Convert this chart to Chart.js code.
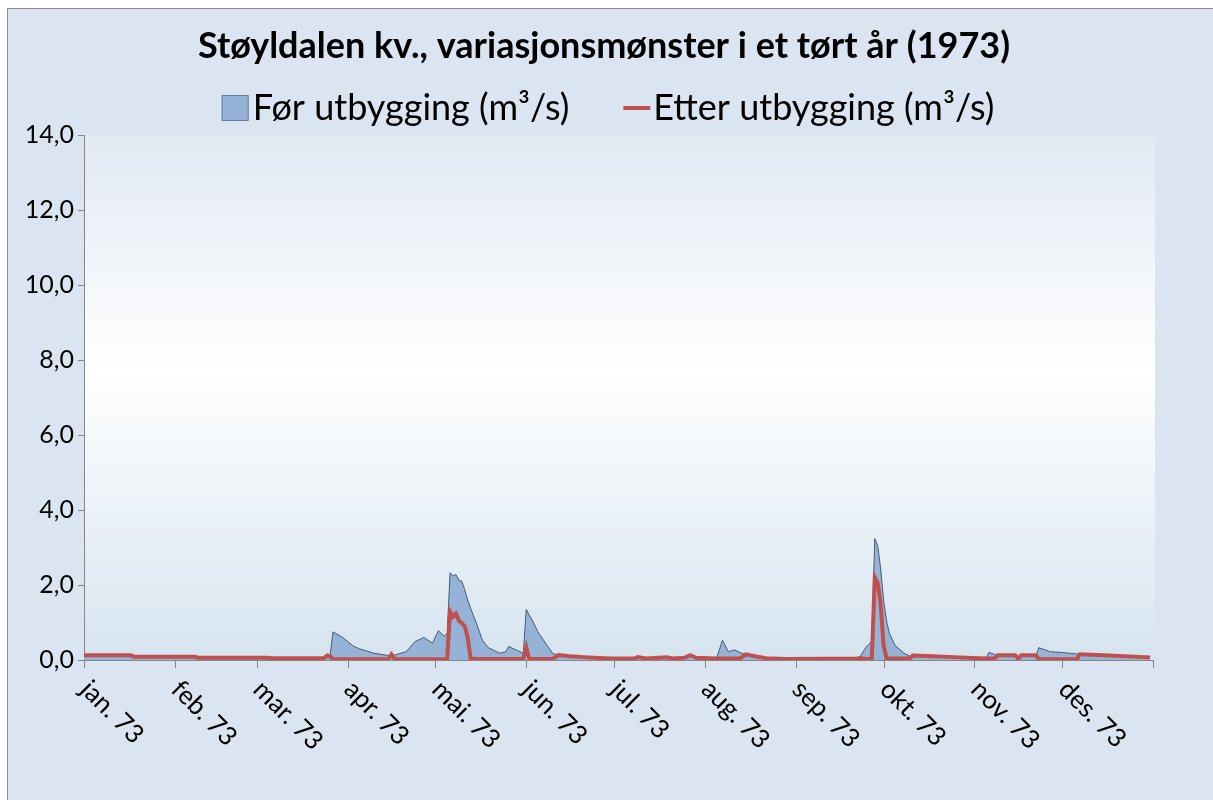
<!DOCTYPE html>
<html>
<head>
<meta charset="utf-8">
<script src="https://cdn.jsdelivr.net/npm/chart.js@4/dist/chart.umd.min.js"></script>
<style>
  body { margin: 0; background: #fff; }
  canvas { display: block; }
</style>
</head>
<body>
<canvas id="chart" width="1213" height="800"></canvas>
<script>
const titleText = 'Støyldalen kv., variasjonsmønster i et tørt år (1973)';
const seriesNames = ['Før utbygging (m³/s)', 'Etter utbygging (m³/s)'];

// day of year (0 = 1 Jan 1973)
const days = [
  0, 16, 17, 38, 39, 63, 64, 82, 83, 84,
  85, 88, 92, 94, 99, 104, 105, 106, 110, 113,
  116, 119, 121, 123, 124, 125, 126, 127, 128, 129,
  130, 131, 132, 134, 136, 138, 142, 144, 145, 147,
  150, 151, 152, 153, 155, 158, 160, 162, 166, 172,
  180, 188, 189, 192, 199, 201, 205, 207, 209, 216,
  218, 220, 222, 224, 226, 229, 233, 240, 264, 265,
  267, 268, 269, 270, 271, 272, 273, 274, 275, 277,
  280, 282, 283, 290, 299, 308, 309, 311, 312, 318,
  319, 320, 321, 322, 325, 326, 330, 334, 339, 340,
  350, 364,
];

const beforeFlow = [
  0.10, 0.10, 0.08, 0.08, 0.06, 0.06, 0.05, 0.05, 0.06, 0.08,
  0.75, 0.62, 0.37, 0.30, 0.18, 0.12, 0.13, 0.13, 0.22, 0.49,
  0.60, 0.45, 0.78, 0.64, 0.70, 2.33, 2.24, 2.28, 2.13, 2.10,
  1.87, 1.60, 1.38, 0.98, 0.53, 0.33, 0.18, 0.22, 0.36, 0.29,
  0.18, 1.35, 1.20, 1.07, 0.75, 0.40, 0.18, 0.12, 0.10, 0.07,
  0.05, 0.04, 0.07, 0.04, 0.07, 0.04, 0.06, 0.13, 0.06, 0.05,
  0.53, 0.22, 0.27, 0.20, 0.14, 0.10, 0.05, 0.03, 0.04, 0.09,
  0.34, 0.42, 0.50, 3.24, 3.05, 2.45, 1.60, 1.05, 0.71, 0.38,
  0.18, 0.10, 0.11, 0.09, 0.06, 0.04, 0.20, 0.15, 0.10, 0.10,
  0.05, 0.10, 0.18, 0.10, 0.10, 0.33, 0.22, 0.20, 0.16, 0.15,
  0.11, 0.06,
];

const afterFlow = [
  0.13, 0.13, 0.09, 0.09, 0.06, 0.06, 0.05, 0.05, 0.12, 0.10,
  0.02, 0.02, 0.02, 0.02, 0.02, 0.03, 0.15, 0.03, 0.02, 0.02,
  0.02, 0.02, 0.02, 0.02, 0.03, 1.29, 1.16, 1.24, 1.05, 0.98,
  0.90, 0.60, 0.04, 0.03, 0.03, 0.03, 0.03, 0.03, 0.03, 0.03,
  0.03, 0.34, 0.03, 0.03, 0.03, 0.03, 0.03, 0.13, 0.10, 0.07,
  0.04, 0.04, 0.08, 0.04, 0.07, 0.04, 0.06, 0.13, 0.06, 0.04,
  0.04, 0.04, 0.04, 0.04, 0.15, 0.10, 0.05, 0.03, 0.04, 0.05,
  0.03, 0.03, 0.03, 2.20, 2.05, 1.50, 0.40, 0.04, 0.04, 0.04,
  0.04, 0.04, 0.12, 0.10, 0.07, 0.04, 0.04, 0.05, 0.13, 0.13,
  0.03, 0.13, 0.13, 0.13, 0.13, 0.02, 0.02, 0.02, 0.02, 0.15,
  0.12, 0.07,
];

const monthStarts = [0, 31, 59, 90, 120, 151, 181, 212, 243, 273, 304, 334, 365];
const monthLabels = ['jan. 73', 'feb. 73', 'mar. 73', 'apr. 73', 'mai. 73', 'jun. 73',
  'jul. 73', 'aug. 73', 'sep. 73', 'okt. 73', 'nov. 73', 'des. 73'];

const FONT = 'Lato, "Open Sans", sans-serif';
const BLUE = '#95b3d7';
const RED = '#c0504d';
const AXIS = '#868686';

const decor = {
  id: 'decor',
  beforeDraw(chart) {
    const { ctx, width, height, chartArea: { left, top, right, bottom } } = chart;
    ctx.save();
    ctx.fillStyle = '#fff';
    ctx.fillRect(0, 0, width, height);
    ctx.fillStyle = '#dbe5f1';
    ctx.fillRect(7, 8, width, height);
    ctx.strokeStyle = '#8c8c8c';
    ctx.lineWidth = 1;
    ctx.beginPath();
    ctx.moveTo(7.5, height);
    ctx.lineTo(7.5, 8.5);
    ctx.lineTo(width, 8.5);
    ctx.stroke();
    const g = ctx.createLinearGradient(0, top, 0, bottom);
    g.addColorStop(0, '#e2e9f3');
    g.addColorStop(0.45, '#ffffff');
    g.addColorStop(1, '#d6e4ef');
    ctx.fillStyle = g;
    ctx.fillRect(left, top, right - left + 2, bottom - top);
    ctx.restore();
  },
  afterDraw(chart) {
    const { ctx, scales: { x }, chartArea: { bottom } } = chart;
    ctx.save();

    // title
    ctx.fillStyle = '#000';
    ctx.font = `bold 36px ${FONT}`;
    ctx.textAlign = 'center';
    ctx.textBaseline = 'middle';
    ctx.fillText(titleText, 604, 46);

    // legend
    ctx.font = `36px ${FONT}`;
    ctx.textAlign = 'left';
    const w1 = ctx.measureText(seriesNames[0]).width;
    const w2 = ctx.measureText(seriesNames[1]).width;
    const total = 27 + 4 + w1 + 54 + 27 + 3 + w2;
    let lx = 608 - total / 2;
    const ly = 108;
    ctx.fillStyle = BLUE;
    ctx.fillRect(lx, ly - 13, 27, 26);
    ctx.strokeStyle = '#6b7f99';
    ctx.lineWidth = 1;
    ctx.strokeRect(lx + 0.5, ly - 12.5, 26, 25);
    lx += 31;
    ctx.fillStyle = '#000';
    ctx.fillText(seriesNames[0], lx, ly);
    lx += w1 + 54;
    ctx.strokeStyle = RED;
    ctx.lineWidth = 4;
    ctx.beginPath();
    ctx.moveTo(lx, ly);
    ctx.lineTo(lx + 27, ly);
    ctx.stroke();
    lx += 30;
    ctx.fillText(seriesNames[1], lx, ly);

    // month tick marks and rotated labels
    ctx.strokeStyle = AXIS;
    ctx.lineWidth = 1;
    monthStarts.forEach((d) => {
      const px = Math.round(x.getPixelForValue(d)) + 0.5;
      ctx.beginPath();
      ctx.moveTo(px, bottom);
      ctx.lineTo(px, bottom + 8);
      ctx.stroke();
    });
    ctx.fillStyle = '#000';
    ctx.font = `26px ${FONT}`;
    ctx.textAlign = 'left';
    ctx.textBaseline = 'middle';
    monthLabels.forEach((label, i) => {
      const px = x.getPixelForValue(monthStarts[i]);
      ctx.save();
      ctx.translate(px + 1, bottom + 25);
      ctx.rotate(Math.PI / 4);
      ctx.fillText(label, 0, 0);
      ctx.restore();
    });
    ctx.restore();
  },
};

new Chart(document.getElementById('chart'), {
  type: 'line',
  data: {
    datasets: [
      {
        label: seriesNames[1],
        data: days.map((d, i) => ({ x: d, y: afterFlow[i] })),
        borderColor: RED,
        borderWidth: 4,
        pointRadius: 0,
        fill: false,
        tension: 0,
        order: 0,
      },
      {
        label: seriesNames[0],
        data: days.map((d, i) => ({ x: d, y: beforeFlow[i] })),
        borderColor: '#4a5a70',
        borderWidth: 1,
        backgroundColor: BLUE,
        pointRadius: 0,
        fill: 'origin',
        tension: 0,
        order: 1,
      },
    ],
  },
  options: {
    responsive: false,
    animation: false,
    events: [],
    layout: { padding: { top: 135, right: 60, left: 0, bottom: 0 } },
    plugins: {
      legend: { display: false },
      title: { display: false },
      tooltip: { enabled: false },
    },
    scales: {
      x: {
        type: 'linear',
        min: 0,
        max: 365,
        ticks: { display: false },
        grid: { display: false },
        border: { display: true, color: AXIS, width: 1 },
        afterFit(scale) { scale.height = 140; },
      },
      y: {
        min: 0,
        max: 14,
        ticks: {
          stepSize: 2,
          color: '#000',
          padding: 4,
          font: { family: FONT, size: 25 },
          callback: (v) => v.toFixed(1).replace('.', ','),
        },
        grid: { drawOnChartArea: false, drawTicks: true, tickLength: 6, color: AXIS },
        border: { display: true, color: AXIS, width: 1 },
        afterFit(scale) { scale.width = 84; },
      },
    },
  },
  plugins: [decor],
});
</script>
</body>
</html>
